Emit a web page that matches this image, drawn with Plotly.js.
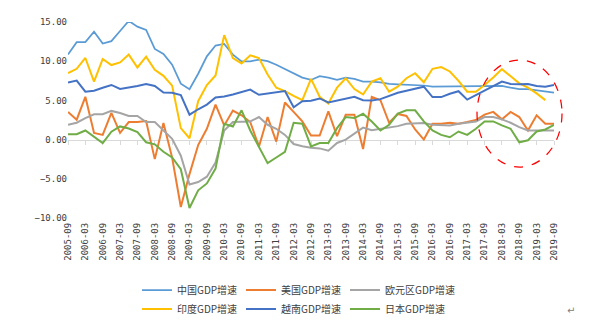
<!DOCTYPE html>
<html>
<head>
<meta charset="utf-8">
<script src="https://cdn.plot.ly/plotly-3.0.1.min.js"></script>
<style>html,body{margin:0;padding:0;background:#fff;}#chart{width:605px;height:325px;}</style>
</head>
<body>
<div id="chart"></div>
<script>
var quarters = ['2005-09','2005-12','2006-03','2006-06','2006-09','2006-12','2007-03','2007-06','2007-09','2007-12',
'2008-03','2008-06','2008-09','2008-12','2009-03','2009-06','2009-09','2009-12','2010-03','2010-06','2010-09','2010-12',
'2011-03','2011-06','2011-09','2011-12','2012-03','2012-06','2012-09','2012-12','2013-03','2013-06','2013-09','2013-12',
'2014-03','2014-06','2014-09','2014-12','2015-03','2015-06','2015-09','2015-12','2016-03','2016-06','2016-09','2016-12',
'2017-03','2017-06','2017-09','2017-12','2018-03','2018-06','2018-09','2018-12','2019-03','2019-06','2019-09'];

var china = [10.84,12.43,12.43,13.76,12.26,12.56,13.85,15.14,14.41,13.98,11.57,10.92,9.55,7.14,6.43,8.4,10.62,12.0,12.2,10.84,9.98,9.98,
10.2,10.0,9.55,9.03,8.43,7.91,7.61,8.09,7.91,7.61,7.91,7.74,7.40,7.40,7.3,7.1,7.05,7.0,6.9,6.9,6.75,6.75,6.75,6.75,
6.84,6.84,6.75,6.84,6.84,6.62,6.45,6.45,6.32,6.19,5.98];

var usa = [3.53,2.54,5.46,0.86,0.60,3.40,0.86,2.24,2.24,2.37,-2.49,2.11,-2.3,-8.6,-4.4,-0.69,1.38,4.47,1.81,3.70,3.10,2.24,
-0.90,2.88,-0.26,4.73,3.53,2.32,0.52,0.52,3.61,0.43,3.18,3.18,-1.2,5.46,5.03,2.15,3.27,3.01,1.29,0.0,2.02,2.02,2.15,2.02,
2.24,2.5,3.18,3.53,2.58,3.53,2.88,1.16,3.10,2.02,2.02];

var euro = [1.89,2.15,2.75,3.23,3.23,3.66,3.40,3.01,3.01,2.24,2.24,1.2,0.1,-2.06,-5.72,-5.42,-4.73,-2.92,1.16,2.24,2.24,2.32,
2.88,1.89,1.38,0.60,-0.56,-0.86,-1.03,-1.12,-1.42,-0.43,0.0,0.73,1.53,1.2,1.38,1.59,1.72,2.02,2.11,2.11,1.89,1.89,1.81,2.02,
2.15,2.32,2.88,2.88,2.58,2.15,1.59,1.16,1.16,1.16,1.16];

var india = [8.47,9.03,10.41,7.40,10.28,9.51,9.85,10.84,9.20,10.58,8.90,8.13,6.88,1.46,0.17,4.90,6.97,8.17,13.33,10.41,9.72,10.75,
10.41,8.3,6.62,6.19,5.59,5.03,7.74,5.46,4.60,6.62,7.83,6.45,5.76,7.4,7.83,6.11,6.75,7.83,8.47,7.31,9.03,9.25,8.69,7.5,
6.11,6.11,6.97,7.91,8.99,8.04,7.18,6.62,5.89,5.03,null];

var vietnam = [7.27,7.53,6.11,6.24,6.62,6.97,6.45,6.62,6.84,7.10,6.84,6.0,5.98,5.68,3.18,3.87,4.47,5.38,5.51,5.76,6.11,6.37,
5.72,5.89,6.06,6.19,4.13,4.90,4.95,5.25,4.73,4.95,5.16,5.46,5.03,5.0,5.16,5.6,5.98,6.24,6.45,6.75,5.42,5.42,5.85,6.17,
5.1,5.68,6.32,6.84,7.40,7.10,7.05,7.10,6.84,6.75,6.97];

var japan = [0.67,0.69,1.16,0.30,-0.45,1.0,1.68,1.42,0.95,-0.34,-0.6,-1.55,-2.28,-3.78,-8.73,-6.47,-5.59,-3.70,2.02,1.68,3.74,1.16,
-0.99,-3.0,-2.28,-1.55,2.15,2.02,-0.86,-0.43,-0.43,1.46,2.88,2.75,3.3,2.3,1.16,1.89,3.31,3.74,3.74,2.32,1.16,0.60,0.30,1.03,
0.60,1.38,2.32,2.32,1.81,1.38,-0.34,-0.09,1.03,1.29,1.89];

var seriesNames = ['中国GDP增速','美国GDP增速','欧元区GDP增速','印度GDP增速','越南GDP增速','日本GDP增速'];
var seriesColors = ['#5B9BD5','#ED7D31','#A5A5A5','#FFC000','#4472C4','#70AD47'];
var seriesData = [china, usa, euro, india, vietnam, japan];
var seriesLegend = ['legend','legend2','legend3','legend','legend2','legend3'];
var seriesWidth = [1.75, 2, 2, 2, 2, 2];

var traces = seriesData.map(function(d, k) {
  return {
    type: 'scatter', mode: 'lines', name: seriesNames[k], x: quarters, y: d,
    line: {color: seriesColors[k], width: seriesWidth[k]},
    legend: seriesLegend[k],
    xaxis: k === 5 ? 'x2' : 'x',
    hoverinfo: 'x+y+name'
  };
});

var tickFont = {family: 'DejaVu Sans Mono, monospace', size: 9, color: '#404040'};
var legFont = {family: 'Noto Sans CJK SC, sans-serif', size: 10, color: '#404040'};

function legendAt(xpx) {
  return {
    orientation: 'v', xref: 'container', yref: 'container',
    x: xpx / 605, y: 1 - 275.5 / 325, xanchor: 'left', yanchor: 'top',
    font: legFont, tracegroupgap: 0,
    bgcolor: 'rgba(0,0,0,0)', borderwidth: 0
  };
}

var layout = {
  width: 605, height: 325,
  margin: {l: 68, r: 51, t: 22, b: 107, pad: 0, autoexpand: false},
  paper_bgcolor: '#ffffff', plot_bgcolor: '#ffffff',
  showlegend: true,
  xaxis: {
    type: 'category', categoryorder: 'array', categoryarray: quarters,
    range: [0, quarters.length - 1], autorange: false,
    showgrid: false, zeroline: false, showline: false,
    ticks: '', tickmode: 'linear', tick0: 0, dtick: 2,
    tickangle: -90, tickfont: tickFont, ticklabelstandoff: 2, automargin: false
  },
  xaxis2: {
    type: 'category', categoryorder: 'array', categoryarray: quarters,
    overlaying: 'x', anchor: 'free', position: 0.4,
    range: [0, quarters.length - 1], autorange: false,
    showgrid: false, zeroline: false, showline: true, linecolor: '#D9D9D9', linewidth: 1,
    ticks: 'outside', ticklen: 4, tickcolor: '#D9D9D9', tickwidth: 1,
    tickmode: 'linear', tick0: 0, dtick: 2,
    showticklabels: false, layer: 'below traces'
  },
  yaxis: {
    range: [-10, 15], autorange: false, dtick: 5, tick0: 0,
    tickformat: '.2f', showgrid: false, zeroline: false, showline: false,
    ticks: '', tickfont: tickFont, ticklabelstandoff: 0, automargin: false
  },
  legend: legendAt(137),
  legend2: legendAt(241),
  legend3: legendAt(345),
  shapes: [{
    type: 'circle', xref: 'paper', yref: 'paper',
    x0: 0.8416, x1: 1.0165, y0: 0.260, y1: 0.806,
    line: {color: '#FF0000', width: 1.25, dash: 'dash'}
  }],
  annotations: [{
    text: '↵', xref: 'paper', yref: 'paper', x: (577 - 68) / 486, y: (218 - 318) / 196,
    showarrow: false, font: {family: 'DejaVu Sans', size: 10, color: '#808080'}
  }]
};

Plotly.newPlot('chart', traces, layout, {displayModeBar: false, staticPlot: true});
</script>
</body>
</html>
